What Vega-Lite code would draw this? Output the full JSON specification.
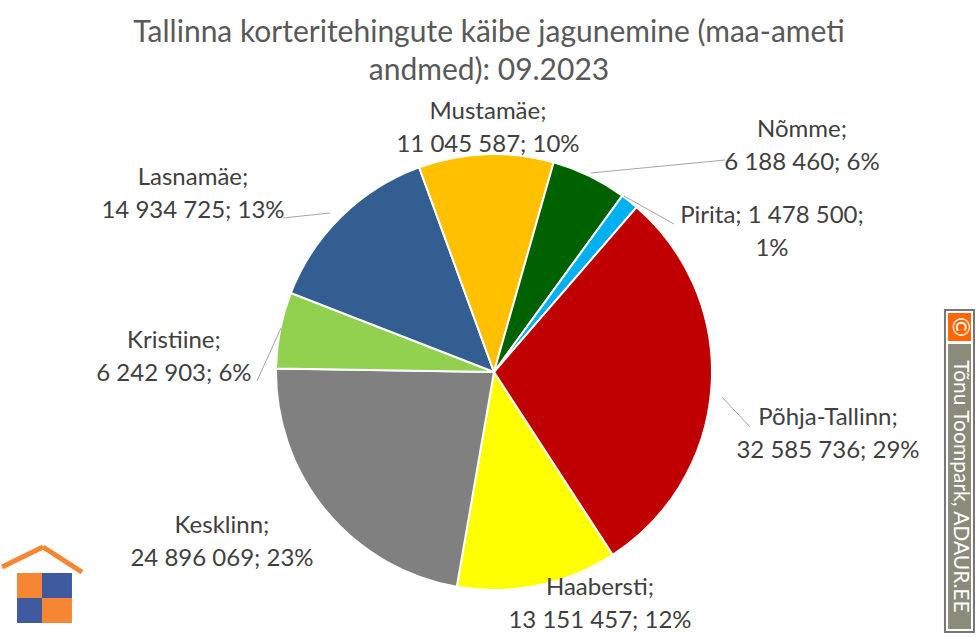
{
  "$schema": "https://vega.github.io/schema/vega-lite/v6.json",
  "width": 964,
  "height": 530,
  "autosize": {"type": "none"},
  "padding": {"left": 12, "top": 107, "right": 0, "bottom": 0},
  "background": "white",
  "config": {
    "view": {"stroke": null},
    "font": "Lato",
    "locale": {"number": {"decimal": ",", "thousands": " ", "grouping": [3], "currency": ["", " €"]}}
  },
  "title": {
    "text": ["Tallinna korteritehingute käibe jagunemine (maa-ameti", "andmed): 09.2023"],
    "font": "Lato",
    "fontSize": 30,
    "fontWeight": "normal",
    "color": "#595959",
    "anchor": "middle",
    "offset": 14,
    "lineHeight": 38,
    "dx": -5
  },
  "data": {
    "values": [
      {"name": "Haabersti", "value": 13151457, "pct": 12},
      {"name": "Kesklinn", "value": 24896069, "pct": 23},
      {"name": "Kristiine", "value": 6242903, "pct": 6},
      {"name": "Lasnamäe", "value": 14934725, "pct": 13},
      {"name": "Mustamäe", "value": 11045587, "pct": 10},
      {"name": "Nõmme", "value": 6188460, "pct": 6},
      {"name": "Pirita", "value": 1478500, "pct": 1},
      {"name": "Põhja-Tallinn", "value": 32585736, "pct": 29}
    ]
  },
  "layer": [
    {
      "mark": {"type": "arc", "outerRadius": 218, "stroke": "white", "strokeWidth": 2},
      "encoding": {
        "theta": {"field": "value", "type": "quantitative", "stack": true, "scale": {"range": [2.5656, 8.8488]}},
        "color": {
          "field": "name",
          "type": "nominal",
          "scale": {
            "domain": ["Haabersti", "Kesklinn", "Kristiine", "Lasnamäe", "Mustamäe", "Nõmme", "Pirita", "Põhja-Tallinn"],
            "range": ["#FFFF00", "#808080", "#92D050", "#335E91", "#FFC000", "#006100", "#00B0F0", "#C00000"]
          },
          "legend": null
        }
      }
    },
    {
      "transform": [
        {"calculate": "datum.name == 'Pirita' ? [datum.name + '; ' + format(datum.value, ',') + ';', datum.pct + '%'] : [datum.name + ';', format(datum.value, ',') + '; ' + datum.pct + '%']", "as": "label"}
      ],
      "mark": {"type": "text", "font": "Lato", "fontSize": 24, "fill": "#404040", "lineHeight": 33, "align": "center", "baseline": "middle", "dy": -16.5},
      "encoding": {
        "theta": {
          "field": "value", "type": "quantitative", "stack": null,
          "scale": {"type": "linear", "zero": false, "nice": false,
            "domain": [1478500, 6188460, 6242903, 11045587, 13151457, 14934725, 24896069, 32585736],
            "range": [1.1071, 0.9378, 4.7591, 6.2586, 2.7131, 5.2440, 4.1537, 1.7572]}
        },
        "radius": {
          "field": "value", "type": "quantitative",
          "scale": {"type": "linear", "zero": false, "nice": false,
            "domain": [1478500, 6188460, 6242903, 11045587, 13151457, 14934725, 24896069, 32585736],
            "range": [310.8, 382.0, 320.4, 243.6, 255.1, 349.2, 320.8, 339.9]}
        },
        "text": {"field": "label"}
      }
    },
    {
      "data": {"values": [{}]},
      "mark": {"type": "rect", "fill": "white", "stroke": "#767676", "strokeWidth": 2},
      "encoding": {
        "x": {"datum": 0.9678, "type": "quantitative", "scale": {"domain": [0, 1], "nice": false, "zero": false}, "axis": null},
        "x2": {"datum": 0.9979},
        "y": {"datum": 0.383, "type": "quantitative", "scale": {"domain": [0, 1], "nice": false, "zero": false, "reverse": true}, "axis": null},
        "y2": {"datum": 0.9906}
      }
    },
    {
      "data": {"values": [{}]},
      "mark": {"type": "rule", "stroke": "#A6A6A6", "strokeWidth": 1},
      "encoding": {
        "x": {"datum": 0.6006, "type": "quantitative"},
        "x2": {"datum": 0.7396},
        "y": {"datum": 0.1245, "type": "quantitative"},
        "y2": {"datum": 0.1}
      }
    },
    {
      "data": {"values": [{}]},
      "mark": {"type": "rule", "stroke": "#A6A6A6", "strokeWidth": 1},
      "encoding": {
        "x": {"datum": 0.6349, "type": "quantitative"},
        "x2": {"datum": 0.6867},
        "y": {"datum": 0.1679, "type": "quantitative"},
        "y2": {"datum": 0.2208}
      }
    },
    {
      "data": {"values": [{}]},
      "mark": {"type": "rule", "stroke": "#A6A6A6", "strokeWidth": 1},
      "encoding": {
        "x": {"datum": 0.2811, "type": "quantitative"},
        "x2": {"datum": 0.3299},
        "y": {"datum": 0.2094, "type": "quantitative"},
        "y2": {"datum": 0.2}
      }
    },
    {
      "data": {"values": [{}]},
      "mark": {"type": "rule", "stroke": "#A6A6A6", "strokeWidth": 1},
      "encoding": {
        "x": {"datum": 0.279, "type": "quantitative"},
        "x2": {"datum": 0.2541},
        "y": {"datum": 0.417, "type": "quantitative"},
        "y2": {"datum": 0.517}
      }
    },
    {
      "data": {"values": [{}]},
      "mark": {"type": "rule", "stroke": "#A6A6A6", "strokeWidth": 1},
      "encoding": {
        "x": {"datum": 0.7365, "type": "quantitative"},
        "x2": {"datum": 0.7656},
        "y": {"datum": 0.5472, "type": "quantitative"},
        "y2": {"datum": 0.6038}
      }
    },
    {
      "data": {"values": [{}]},
      "mark": {"type": "rect", "fill": "#8B8B7B"},
      "encoding": {
        "x": {"datum": 0.971, "type": "quantitative"},
        "x2": {"datum": 0.9948},
        "y": {"datum": 0.4472, "type": "quantitative"},
        "y2": {"datum": 0.9849}
      }
    },
    {
      "data": {"values": [{}]},
      "mark": {"type": "rect", "fill": "#FF6600"},
      "encoding": {
        "x": {"datum": 0.971, "type": "quantitative"},
        "x2": {"datum": 0.9948},
        "y": {"datum": 0.3887, "type": "quantitative"},
        "y2": {"datum": 0.4415}
      }
    },
    {
      "data": {"values": [{"t": "©"}]},
      "mark": {"type": "text", "font": "Lato", "fontSize": 24, "fill": "white", "angle": 90, "align": "center", "baseline": "middle"},
      "encoding": {
        "x": {"datum": 0.9829, "type": "quantitative"},
        "y": {"datum": 0.4151, "type": "quantitative"},
        "text": {"field": "t"}
      }
    },
    {
      "data": {"values": [{"t": "Tõnu Toompark, ADAUR.EE"}]},
      "mark": {"type": "text", "font": "Lato", "fontSize": 21, "fill": "white", "angle": 90, "align": "center", "baseline": "middle"},
      "encoding": {
        "x": {"datum": 0.9829, "type": "quantitative"},
        "y": {"datum": 0.716, "type": "quantitative"},
        "text": {"field": "t"}
      }
    },
    {
      "data": {"values": [{}]},
      "mark": {"type": "rect", "fill": "#F58634"},
      "encoding": {
        "x": {"datum": 0.0052, "type": "quantitative"},
        "x2": {"datum": 0.0311},
        "y": {"datum": 0.8792, "type": "quantitative"},
        "y2": {"datum": 0.9264}
      }
    },
    {
      "data": {"values": [{}]},
      "mark": {"type": "rect", "fill": "#3F5A9E"},
      "encoding": {
        "x": {"datum": 0.0311, "type": "quantitative"},
        "x2": {"datum": 0.0622},
        "y": {"datum": 0.8792, "type": "quantitative"},
        "y2": {"datum": 0.9264}
      }
    },
    {
      "data": {"values": [{}]},
      "mark": {"type": "rect", "fill": "#3F5A9E"},
      "encoding": {
        "x": {"datum": 0.0052, "type": "quantitative"},
        "x2": {"datum": 0.0311},
        "y": {"datum": 0.9264, "type": "quantitative"},
        "y2": {"datum": 0.9736}
      }
    },
    {
      "data": {"values": [{}]},
      "mark": {"type": "rect", "fill": "#F58634"},
      "encoding": {
        "x": {"datum": 0.0311, "type": "quantitative"},
        "x2": {"datum": 0.0622},
        "y": {"datum": 0.9264, "type": "quantitative"},
        "y2": {"datum": 0.9736}
      }
    },
    {
      "data": {"values": [{}]},
      "mark": {"type": "rule", "stroke": "#F58634", "strokeWidth": 5},
      "encoding": {
        "x": {"datum": -0.0104, "type": "quantitative"},
        "x2": {"datum": 0.0322},
        "y": {"datum": 0.8679, "type": "quantitative"},
        "y2": {"datum": 0.8302}
      }
    },
    {
      "data": {"values": [{}]},
      "mark": {"type": "rule", "stroke": "#F58634", "strokeWidth": 5},
      "encoding": {
        "x": {"datum": 0.0322, "type": "quantitative"},
        "x2": {"datum": 0.0726},
        "y": {"datum": 0.8302, "type": "quantitative"},
        "y2": {"datum": 0.8774}
      }
    }
  ],
  "resolve": {"scale": {"theta": "independent"}}
}
